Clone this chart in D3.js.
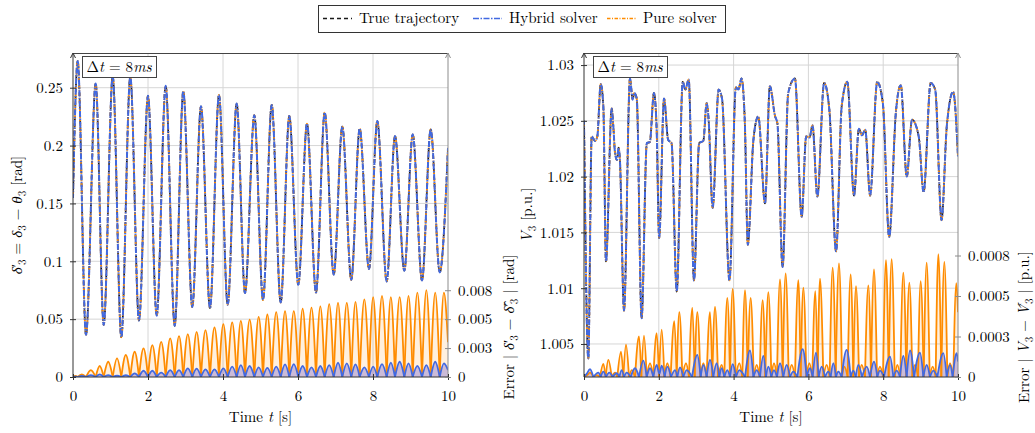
<!DOCTYPE html>
<html>
<head>
<meta charset="utf-8">
<script src="https://cdn.jsdelivr.net/npm/d3@7"></script>
<style>
body { margin: 0; background: #fff; }
</style>
</head>
<body>
<script>
// ---------------- data ----------------
var seriesNames = ['True trajectory', 'Hybrid solver', 'Pure solver'];
var timeTicks = [0, 2, 4, 6, 8, 10];
var timeLabels = ['0', '2', '4', '6', '8', '10'];

// left panel: rotor angle, extrema of the oscillation (s, rad)
var deltaT = [0, 0.125, 0.347, 0.605, 0.819, 1.059, 1.288, 1.528, 1.76, 2.0, 2.232,
  2.472, 2.712, 2.941, 3.181, 3.413, 3.653, 3.893, 4.125, 4.365, 4.587, 4.835,
  5.067, 5.299, 5.539, 5.768, 6.008, 6.24, 6.48, 6.712, 6.952, 7.181, 7.421,
  7.645, 7.893, 8.115, 8.365, 8.587, 8.835, 9.059, 9.307, 9.539, 9.779, 10];
var deltaV = [0.155, 0.273, 0.0364, 0.2537, 0.045, 0.260, 0.0344, 0.2597, 0.0488, 0.243,
  0.0529, 0.2516, 0.0442, 0.247, 0.0604, 0.234, 0.0595, 0.2438, 0.0624, 0.2363,
  0.0725, 0.2262, 0.0667, 0.2351, 0.0644, 0.2256, 0.0797, 0.219, 0.073, 0.2285,
  0.0884, 0.2164, 0.084, 0.2147, 0.0933, 0.2212, 0.0826, 0.2083, 0.0919, 0.2097,
  0.0835, 0.214, 0.0904, 0.198];
// error arches: zeros sit on the extrema above, tops at these times
var errPeakT = [0.062, 0.236, 0.476, 0.712, 0.939, 1.174, 1.408, 1.644, 1.88, 2.116,
  2.352, 2.592, 2.827, 3.061, 3.297, 3.533, 3.773, 4.009, 4.245, 4.476, 4.711,
  4.951, 5.183, 5.419, 5.654, 5.888, 6.124, 6.36, 6.596, 6.832, 7.067, 7.301,
  7.533, 7.769, 8.004, 8.24, 8.476, 8.711, 8.947, 9.183, 9.423, 9.659, 9.89];
var deltaErrPure = [0.0001, 0.00023, 0.0006, 0.00095, 0.00132, 0.00161, 0.0019, 0.00218, 0.00247, 0.00276,
  0.00304, 0.00334, 0.00353, 0.00371, 0.0039, 0.00405, 0.00428, 0.00457, 0.00472, 0.00485,
  0.00495, 0.0052, 0.0054, 0.0056, 0.0057, 0.0057, 0.0059, 0.006, 0.0061, 0.0063,
  0.0064, 0.0064, 0.0065, 0.0067, 0.0069, 0.007, 0.0069, 0.0069, 0.007, 0.0073,
  0.0075, 0.0073, 0.0073];
var deltaErrHybrid = [0.00003, 0.00009, 0.00017, 0.00023, 0.00017, 0.00011, 0.00015, 0.00032, 0.00054, 0.00054,
  0.00037, 0.0006, 0.0006, 0.00075, 0.00072, 0.00066, 0.00066, 0.00075, 0.00089, 0.00103,
  0.00095, 0.00084, 0.00078, 0.00089, 0.00109, 0.00112, 0.00095, 0.00084, 0.00095, 0.00103,
  0.00123, 0.00118, 0.00109, 0.00084, 0.00089, 0.00112, 0.00123, 0.00132, 0.00118, 0.00097,
  0.00103, 0.00132, 0.00118];
var deltaErrEnd = [0.003, 0.0006]; // pure, hybrid at t = 10

// right panel: bus voltage (s, p.u.)
var voltT = [0, 0.115, 0.206, 0.294, 0.356, 0.447, 0.517, 0.588, 0.74, 0.784,
  0.83, 0.88, 0.925, 0.96, 1.07, 1.23, 1.30, 1.345, 1.41, 1.54,
  1.68, 1.76, 1.87, 1.94, 2.01, 2.14, 2.25, 2.34, 2.48, 2.64,
  2.71, 2.80, 2.94, 3.08, 3.19, 3.28, 3.33, 3.44, 3.60, 3.69,
  3.89, 4.06, 4.13, 4.21, 4.30, 4.38, 4.53, 4.66, 4.84, 4.97,
  5.11, 5.17, 5.31, 5.46, 5.64, 5.82, 5.94, 6.03, 6.11, 6.24,
  6.42, 6.56, 6.74, 6.89, 7.04, 7.22, 7.35, 7.43, 7.52, 7.65,
  7.84, 7.99, 8.16, 8.34, 8.47, 8.63, 8.77, 8.95, 9.08, 9.27,
  9.39, 9.56, 9.70, 9.87, 10];
var voltV = [1.025, 1.0037, 1.0236, 1.0232, 1.0236, 1.0283, 1.0263, 1.0124, 1.0261, 1.0245,
  1.0221, 1.0215, 1.0226, 1.0215, 1.0080, 1.0288, 1.0269, 1.0275, 1.027, 1.0073,
  1.023, 1.0231, 1.0275, 1.0245, 1.0145, 1.027, 1.0233, 1.023, 1.0097, 1.0285,
  1.0278, 1.0287, 1.0107, 1.023, 1.0232, 1.0266, 1.0252, 1.0172, 1.0278, 1.027,
  1.0107, 1.028, 1.0278, 1.0288, 1.0249, 1.0139, 1.0233, 1.0254, 1.0176, 1.0281,
  1.0254, 1.0248, 1.0119, 1.0275, 1.0288, 1.0164, 1.0236, 1.0235, 1.0246, 1.0182,
  1.0284, 1.026, 1.0133, 1.0263, 1.0285, 1.0183, 1.0243, 1.0237, 1.0242, 1.0183,
  1.0285, 1.0266, 1.0146, 1.0258, 1.0282, 1.02, 1.0251, 1.0236, 1.0186, 1.0284,
  1.0278, 1.0161, 1.0245, 1.0276, 1.0218];
var voltErrPure = [[0, 0], [0.089, 0.000012], [0.16, 0.000027], [0.25, 0], [0.339, 0.000012], [0.428, 0],
  [0.517, 0.000081], [0.579, 0], [0.651, 0.000106], [0.74, 0], [0.829, 0.000027], [0.891, 0],
  [0.989, 0.000157], [1.052, 0], [1.123, 0.000199], [1.203, 0], [1.275, 0.000043], [1.364, 0],
  [1.471, 0.00025], [1.533, 0], [1.604, 0.000255], [1.676, 0], [1.765, 0.000085], [1.854, 0],
  [1.943, 0.000271], [2.005, 0], [2.077, 0.000292], [2.148, 0], [2.228, 0.000085], [2.317, 0],
  [2.415, 0.000344], [2.478, 0], [2.549, 0.0004], [2.629, 0], [2.727, 0.000085], [2.807, 0],
  [2.897, 0.000426], [2.959, 0], [3.03, 0.0004], [3.111, 0], [3.191, 0.000085], [3.28, 0],
  [3.369, 0.0004], [3.431, 0], [3.503, 0.000433], [3.583, 0], [3.681, 0.000075], [3.752, 0],
  [3.832, 0.000489], [3.904, 0], [3.975, 0.000544], [4.055, 0], [4.153, 0.000085], [4.234, 0],
  [4.305, 0.000536], [4.376, 0], [4.456, 0.000489], [4.537, 0], [4.617, 0.000075], [4.697, 0],
  [4.777, 0.000474], [4.848, 0], [4.929, 0.000524], [5.009, 0], [5.08, 0.000085], [5.16, 0],
  [5.241, 0.000602], [5.312, 0], [5.392, 0.00064], [5.472, 0], [5.553, 0.000075], [5.642, 0],
  [5.731, 0.000598], [5.793, 0], [5.865, 0.000551], [5.945, 0], [6.025, 0.000085], [6.105, 0],
  [6.185, 0.00053], [6.248, 0], [6.31, 0.000607], [6.399, 0], [6.488, 0.000075], [6.569, 0],
  [6.649, 0.000675], [6.729, 0], [6.818, 0.000702], [6.898, 0], [6.961, 0.000064], [7.05, 0],
  [7.13, 0.000633], [7.201, 0], [7.273, 0.000561], [7.353, 0], [7.424, 0.000075], [7.513, 0],
  [7.603, 0.000565], [7.674, 0], [7.754, 0.000664], [7.834, 0], [7.914, 0.000064], [7.995, 0],
  [8.075, 0.000722], [8.146, 0], [8.226, 0.000727], [8.307, 0], [8.378, 0.000075], [8.458, 0],
  [8.538, 0.000644], [8.619, 0], [8.699, 0.000582], [8.779, 0], [8.85, 0.000075], [8.93, 0],
  [9.002, 0.000592], [9.082, 0], [9.162, 0.000706], [9.242, 0], [9.323, 0.000064], [9.403, 0],
  [9.474, 0.000758], [9.554, 0], [9.635, 0.00071], [9.715, 0], [9.786, 0.000085], [9.875, 0],
  [9.955, 0.00058], [10, 0.0004]];
var voltErrHybrid = [[0, 0], [0.071, 0.000019], [0.16, 0.000048], [0.25, 0], [0.383, 0.000027],
  [0.446, 0], [0.517, 0.000033], [0.588, 0], [0.677, 0.000027], [0.766, 0],
  [0.873, 0.000023], [0.945, 0], [1.007, 0.000043], [1.07, 0], [1.141, 0.000027],
  [1.248, 0], [1.364, 0.000054], [1.471, 0], [1.586, 0.000101], [1.676, 0],
  [1.765, 0.000054], [1.854, 0], [1.943, 0.000075], [2.014, 0.000019], [2.077, 0.00007],
  [2.157, 0], [2.228, 0.000064], [2.326, 0], [2.433, 0.000043], [2.496, 0],
  [2.567, 0.00006], [2.656, 0], [2.745, 0.000043], [2.888, 0], [3.03, 0.000137],
  [3.119, 0], [3.191, 0.000075], [3.28, 0], [3.369, 0.000106], [3.458, 0],
  [3.547, 0.000085], [3.619, 0], [3.681, 0.000054], [3.752, 0], [3.832, 0.000043],
  [3.904, 0], [3.975, 0.000079], [4.064, 0], [4.153, 0.000043], [4.305, 0],
  [4.439, 0.000164], [4.528, 0], [4.617, 0.000043], [4.706, 0], [4.795, 0.00013],
  [4.866, 0], [4.929, 0.000064], [5.009, 0], [5.08, 0.000043], [5.16, 0],
  [5.241, 0.000085], [5.33, 0], [5.419, 0.000075], [5.508, 0], [5.597, 0.000033],
  [5.704, 0], [5.847, 0.000172], [5.954, 0], [6.043, 0.000054], [6.114, 0],
  [6.203, 0.000151], [6.275, 0], [6.355, 0.000064], [6.444, 0], [6.533, 0.000033],
  [6.595, 0], [6.667, 0.000085], [6.738, 0], [6.8, 0.000033], [6.889, 0],
  [7.023, 0.000168], [7.13, 0], [7.201, 0.000039], [7.264, 0], [7.335, 0.000075],
  [7.433, 0], [7.558, 0.000064], [7.647, 0], [7.754, 0.000095], [7.843, 0],
  [7.914, 0.000039], [8.021, 0], [8.182, 0.000126], [8.271, 0], [8.36, 0.000039],
  [8.449, 0], [8.538, 0.00013], [8.627, 0], [8.717, 0.000164], [8.824, 0],
  [8.984, 0.000151], [9.073, 0], [9.162, 0.000075], [9.251, 0], [9.34, 0.000039],
  [9.447, 0], [9.608, 0.000147], [9.697, 0], [9.786, 0.000075], [9.857, 0],
  [9.964, 0.000147], [10, 0.000095]];

var deltaTicks = [0, 0.05, 0.1, 0.15, 0.2, 0.25];
var deltaLabels = ['0', '0.05', '0.1', '0.15', '0.2', '0.25'];
var deltaErrTicks = [0, 0.0025, 0.005, 0.0075];
var deltaErrLabels = ['0', '0.003', '0.005', '0.008'];
var voltTicks = [1.005, 1.01, 1.015, 1.02, 1.025, 1.03];
var voltLabels = ['1.005', '1.01', '1.015', '1.02', '1.025', '1.03'];
var voltErrTicks = [0, 0.00025, 0.0005, 0.00075];
var voltErrLabels = ['0', '0.0003', '0.0005', '0.0008'];

// ---------------- drawing ----------------
var W = 1035, H = 433;
var plotTop = 53, plotBottom = 377;
var black = '#1a1a1a', blue = '#4169e1', orange = '#ff8c00';
var dashes = ['4,3', '6,1.5,1.5,1.5', '3.5,1.5,1,1.5'];
var widths = [1.7, 2.0, 1.9];
var colors = [black, blue, orange];
var fontFam = '"Latin Modern Roman", "Liberation Serif", serif';
var fs = 15;

var svg = d3.select('body').append('svg').attr('width', W).attr('height', H)
  .attr('font-family', fontFam);

// text with italic parts and subscripts
var mathText = function(sel, parts) {
  var shift = 0;
  parts.forEach(function(p) {
    var ts = sel.append('tspan').text(p[0]);
    var want = (p[1] === 'sub' || p[1] === 'subp') ? 4 : 0;
    if (want !== shift) { ts.attr('dy', want - shift); shift = want; }
    if (p[1] === 'sub' || p[1] === 'subp') ts.attr('font-size', 11);
    if (p[1] === 'subp') ts.attr('dx', -1);
    if (p[1] === 'i') ts.attr('font-style', 'italic');
  });
};

var pairs = function(ts, vs) {
  return ts.map(function(t, i) { return [t, vs[i]]; });
};

// one arch per half period, between consecutive extrema
var arches = function(tops, endVal) {
  return errPeakT.map(function(p, i) {
    var last = i === errPeakT.length - 1;
    return [[deltaT[i], 0], [p, tops[i]], [deltaT[i + 1], last ? endVal : 0]];
  });
};

// cut a series into humps at its zero readings
var humps = function(pts) {
  var out = [], cur = [pts[0]];
  pts.slice(1).forEach(function(p) {
    cur.push(p);
    if (p[1] === 0) { out.push(cur); cur = [p]; }
  });
  if (cur.length > 1) out.push(cur);
  return out;
};

var drawPanel = function(cfg) {
  var x = d3.scaleLinear().domain([0, 10]).range([cfg.left, cfg.right]);
  var y = d3.scaleLinear().domain(cfg.yDomain).range([plotBottom, plotTop]);
  var ye = d3.scaleLinear().domain(cfg.eDomain).range([plotBottom, plotTop]);
  var g = svg.append('g');

  svg.append('clipPath').attr('id', 'clip' + cfg.id).append('rect')
    .attr('x', cfg.left).attr('y', plotTop)
    .attr('width', cfg.right - cfg.left).attr('height', plotBottom - plotTop);

  // grid
  g.selectAll(null).data(timeTicks.slice(1, -1)).enter().append('line')
    .attr('x1', function(d) { return x(d); }).attr('x2', function(d) { return x(d); })
    .attr('y1', plotTop).attr('y2', plotBottom)
    .attr('stroke', '#d6d6d6').attr('stroke-width', 1);
  g.selectAll(null).data(cfg.yTicks.filter(function(d) { return y(d) < plotBottom - 1; }))
    .enter().append('line')
    .attr('x1', cfg.left).attr('x2', cfg.right)
    .attr('y1', function(d) { return y(d); }).attr('y2', function(d) { return y(d); })
    .attr('stroke', '#d6d6d6').attr('stroke-width', 1);

  var inner = g.append('g').attr('clip-path', 'url(#clip' + cfg.id + ')');

  // error curves
  var eLine = d3.line().x(function(d) { return x(d[0]); }).y(function(d) { return ye(d[1]); })
    .curve(d3.curveMonotoneX);
  var eArea = d3.area().x(function(d) { return x(d[0]); }).y0(ye(0))
    .y1(function(d) { return ye(d[1]); }).curve(d3.curveMonotoneX);
  inner.selectAll(null).data(cfg.errPure).enter().append('path')
    .attr('d', eArea).attr('fill', orange).attr('fill-opacity', 0.13);
  inner.selectAll(null).data(cfg.errHybrid).enter().append('path')
    .attr('d', eArea).attr('fill', '#6a5acd').attr('fill-opacity', 0.35);
  inner.selectAll(null).data(cfg.errPure).enter().append('path')
    .attr('d', eLine).attr('fill', 'none').attr('stroke', orange)
    .attr('stroke-width', 1.8).attr('stroke-linejoin', 'round');
  inner.selectAll(null).data(cfg.errHybrid).enter().append('path')
    .attr('d', eLine).attr('fill', 'none').attr('stroke', blue)
    .attr('stroke-width', 1.8).attr('stroke-linejoin', 'round');

  // trajectories (solver curves coincide with the true one at this scale)
  var line = d3.line().x(function(d) { return x(d[0]); }).y(function(d) { return y(d[1]); })
    .curve(d3.curveMonotoneX);
  [0, 2, 1].forEach(function(k) {
    inner.append('path').attr('d', line(cfg.main[k]))
      .attr('fill', 'none').attr('stroke', colors[k]).attr('stroke-width', widths[k])
      .attr('stroke-dasharray', dashes[k]).attr('stroke-dashoffset', k * 2);
  });

  // frame
  g.append('line').attr('x1', cfg.left).attr('x2', cfg.right).attr('y1', plotTop + 0.5).attr('y2', plotTop + 0.5)
    .attr('stroke', '#444');
  g.append('line').attr('x1', cfg.right).attr('x2', cfg.right).attr('y1', plotTop).attr('y2', plotBottom)
    .attr('stroke', '#8c8c8c');
  g.append('line').attr('x1', cfg.left).attr('x2', cfg.right).attr('y1', plotBottom).attr('y2', plotBottom)
    .attr('stroke', '#333');
  g.append('line').attr('x1', cfg.left).attr('x2', cfg.left).attr('y1', plotTop).attr('y2', plotBottom)
    .attr('stroke', '#333');
  g.append('path').attr('d', 'M' + (cfg.left - 2.5) + ',' + (plotTop + 5) + 'L' + cfg.left + ',' + plotTop +
    'L' + (cfg.left + 2.5) + ',' + (plotTop + 5)).attr('fill', 'none').attr('stroke', '#333');
  g.append('path').attr('d', 'M' + (cfg.right - 2.5) + ',' + (plotTop + 5) + 'L' + cfg.right + ',' + plotTop +
    'L' + (cfg.right + 2.5) + ',' + (plotTop + 5)).attr('fill', 'none').attr('stroke', '#8c8c8c');

  // axes
  var styleAxis = function(a, col, cross) {
    a.select('.domain').remove();
    a.attr('font-family', fontFam).attr('font-size', fs);
    a.selectAll('.tick text').attr('fill', '#000');
    a.selectAll('.tick line').attr('stroke', col).each(cross);
  };
  var ax = g.append('g').attr('transform', 'translate(0,' + plotBottom + ')')
    .call(d3.axisBottom(x).tickValues(timeTicks)
      .tickFormat(function(d, i) { return timeLabels[i]; })
      .tickSizeInner(3).tickSizeOuter(0).tickPadding(10));
  styleAxis(ax, '#333', function() { d3.select(this).attr('y1', -3); });
  var ay = g.append('g').attr('transform', 'translate(' + cfg.left + ',0)')
    .call(d3.axisLeft(y).tickValues(cfg.yTicks)
      .tickFormat(function(d, i) { return cfg.yLabels[i]; })
      .tickSizeInner(3).tickSizeOuter(0).tickPadding(7));
  styleAxis(ay, '#333', function() { d3.select(this).attr('x1', 3); });
  var ae = g.append('g').attr('transform', 'translate(' + cfg.right + ',0)')
    .call(d3.axisRight(ye).tickValues(cfg.eTicks)
      .tickFormat(function(d, i) { return cfg.eLabels[i]; })
      .tickSizeInner(3).tickSizeOuter(0).tickPadding(7));
  styleAxis(ae, '#8c8c8c', function() { d3.select(this).attr('x1', -3); });

  // axis titles
  mathText(g.append('text').attr('text-anchor', 'middle').attr('font-size', fs)
    .attr('x', (cfg.left + cfg.right) / 2).attr('y', 422), [['Time ', ''], ['t', 'i'], [' [s]', '']]);
  mathText(g.append('text').attr('text-anchor', 'middle').attr('font-size', fs)
    .attr('transform', 'translate(' + cfg.yTitleX + ',' + cfg.yTitleY + ') rotate(-90)'), cfg.yTitle);
  mathText(g.append('text').attr('text-anchor', 'middle').attr('font-size', fs)
    .attr('transform', 'translate(' + cfg.eTitleX + ',327) rotate(-90)'), cfg.eTitle);

  // step size box
  var bx = cfg.left + 9;
  g.append('rect').attr('x', bx + 0.5).attr('y', plotTop + 3.5).attr('width', 74).attr('height', 21)
    .attr('fill', '#fff').attr('stroke', '#444');
  mathText(g.append('text').attr('text-anchor', 'middle').attr('font-size', fs)
    .attr('x', bx + 37).attr('y', plotTop + 19), [['\u0394', ''], ['t', 'i'], [' = 8', ''], ['ms', 'i']]);
};

var deltaMain = pairs(deltaT, deltaV);
var voltMain = pairs(voltT, voltV);

drawPanel({
  id: 'a', left: 73, right: 448,
  yDomain: [0, 0.28], eDomain: [0, 0.028],
  yTicks: deltaTicks, yLabels: deltaLabels, eTicks: deltaErrTicks, eLabels: deltaErrLabels,
  main: [deltaMain, deltaMain, deltaMain],
  errPure: arches(deltaErrPure, deltaErrEnd[0]),
  errHybrid: arches(deltaErrHybrid, deltaErrEnd[1]),
  yTitleX: 22, yTitleY: 215, eTitleX: 514,
  yTitle: [['\u03B4', 'i'], ['\u2032', ''], ['3', 'subp'], [' = ', ''], ['\u03B4', 'i'], ['3', 'sub'],
    [' \u2212 ', ''], ['\u03B8', 'i'], ['3', 'sub'], [' [rad]', '']],
  eTitle: [['Error | ', ''], ['\u03B4', 'i'], ['\u2032', ''], ['3', 'subp'], [' \u2212 ', ''],
    ['\u03B4\u0302', 'i'], ['\u2032', ''], ['3', 'subp'], [' | [rad]', '']]
});

drawPanel({
  id: 'b', left: 584, right: 958,
  yDomain: [1.00204, 1.03108], eDomain: [0, 0.002],
  yTicks: voltTicks, yLabels: voltLabels, eTicks: voltErrTicks, eLabels: voltErrLabels,
  main: [voltMain, voltMain, voltMain],
  errPure: humps(voltErrPure),
  errHybrid: humps(voltErrHybrid),
  yTitleX: 532, yTitleY: 215, eTitleX: 1029,
  yTitle: [['V', 'i'], ['3', 'sub'], [' [p.u.]', '']],
  eTitle: [['Error | ', ''], ['V', 'i'], ['3', 'sub'], [' \u2212 ', ''], ['V\u0302', 'i'], ['3', 'sub'],
    [' | [p.u.]', '']]
});

// legend
var legend = svg.append('g');
legend.append('rect').attr('x', 318.5).attr('y', 5.5).attr('width', 407).attr('height', 27)
  .attr('fill', '#fff').attr('stroke', '#333');
var legendX = [323, 473, 607];
seriesNames.forEach(function(name, k) {
  legend.append('line').attr('x1', legendX[k]).attr('x2', legendX[k] + 29)
    .attr('y1', 18.5).attr('y2', 18.5)
    .attr('stroke', colors[k]).attr('stroke-width', 1.6).attr('stroke-dasharray', dashes[k]);
  legend.append('text').attr('x', legendX[k] + 36).attr('y', 23).attr('font-size', fs).text(name);
});
</script>
</body>
</html>
